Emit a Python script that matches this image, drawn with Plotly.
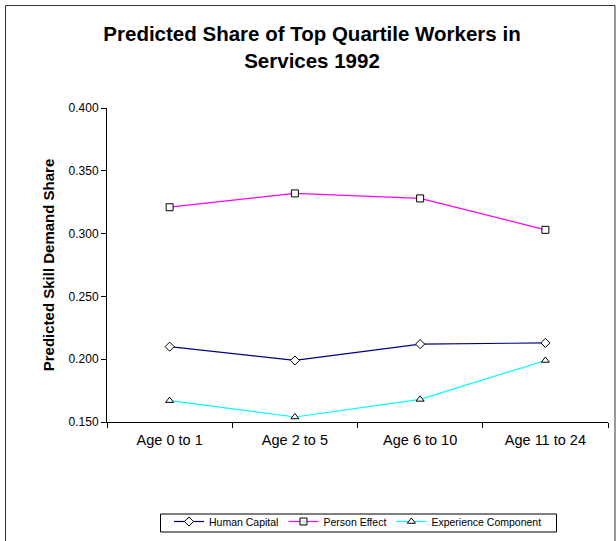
import plotly.graph_objects as go

categories = ["Age 0 to 1", "Age 2 to 5", "Age 6 to 10", "Age 11 to 24"]
human_capital = [0.210, 0.199, 0.212, 0.213]
person_effect = [0.321, 0.332, 0.328, 0.303]
experience_component = [0.167, 0.154, 0.168, 0.199]
y_ticks = [0.150, 0.200, 0.250, 0.300, 0.350, 0.400]

FONT = "Liberation Sans, Arial, sans-serif"

fig = go.Figure()
series = [
    ("Human Capital", human_capital, "#000080", "diamond"),
    ("Person Effect", person_effect, "#FF00FF", "square"),
    ("Experience Component", experience_component, "#00FFFF", "triangle-up"),
]
for name, vals, color, sym in series:
    fig.add_trace(go.Scatter(
        x=categories, y=vals, name=name, mode="lines+markers",
        line=dict(color=color, width=1.2),
        marker=dict(symbol=sym, size=7, color="white",
                    line=dict(color="black", width=1)),
    ))

# plot area pixel geometry
L, R, T, B = 107, 608, 108, 422
W, H = 616, 541
pw, ph = R - L, B - T

def px(x):
    return (x - L) / pw

def py(y):
    return (B - y) / ph

# outer chart border
fig.add_shape(type="rect", xref="paper", yref="paper",
              x0=px(5.5), x1=px(615), y0=py(5.5), y1=py(548),
              line=dict(color="#333333", width=1), fillcolor="rgba(0,0,0,0)",
              layer="below")
# legend frame
fig.add_shape(type="rect", xref="paper", yref="paper",
              x0=px(160.5), x1=px(556.5), y0=py(514), y1=py(532),
              line=dict(color="black", width=1), fillcolor="white",
              layer="below")

fig.update_layout(
    width=W, height=H,
    margin=dict(l=L, r=W - R, t=T, b=H - B, autoexpand=False),
    paper_bgcolor="white", plot_bgcolor="white",
    font=dict(family=FONT, size=12, color="black"),
    title=dict(text="<b>Predicted Share of Top Quartile Workers in<br>Services 1992</b>",
               x=312 / W, xanchor="center", y=1 - 41 / H, yanchor="middle",
               font=dict(size=20.5, family=FONT, color="black")),
    showlegend=True,
    legend=dict(orientation="h", x=px(358), xanchor="center",
                y=py(507), yanchor="top",
                borderwidth=0,
                font=dict(size=10.5, family=FONT),
                itemwidth=30, tracegroupgap=0,
                bgcolor="rgba(0,0,0,0)"),
    xaxis=dict(type="category", range=[-0.5, 3.5], showgrid=False,
               showline=True, linecolor="black", linewidth=1,
               ticks="outside", ticklen=5, tickcolor="black",
               tickson="boundaries", tickfont=dict(size=14.5), zeroline=False,
               ticklabelstandoff=5),
    yaxis=dict(range=[0.15, 0.40], tickvals=y_ticks, tickformat=".3f",
               showgrid=False, showline=True, linecolor="black", linewidth=1,
               ticks="outside", ticklen=5, tickcolor="black",
               tickfont=dict(size=12), zeroline=False,
               title=dict(text="<b>Predicted Skill Demand Share</b>",
                          font=dict(size=15), standoff=10)),
)

fig.write_html("out.html", config={"displayModeBar": False},
               post_script="document.body.style.margin='0';document.body.style.overflow='hidden';")
